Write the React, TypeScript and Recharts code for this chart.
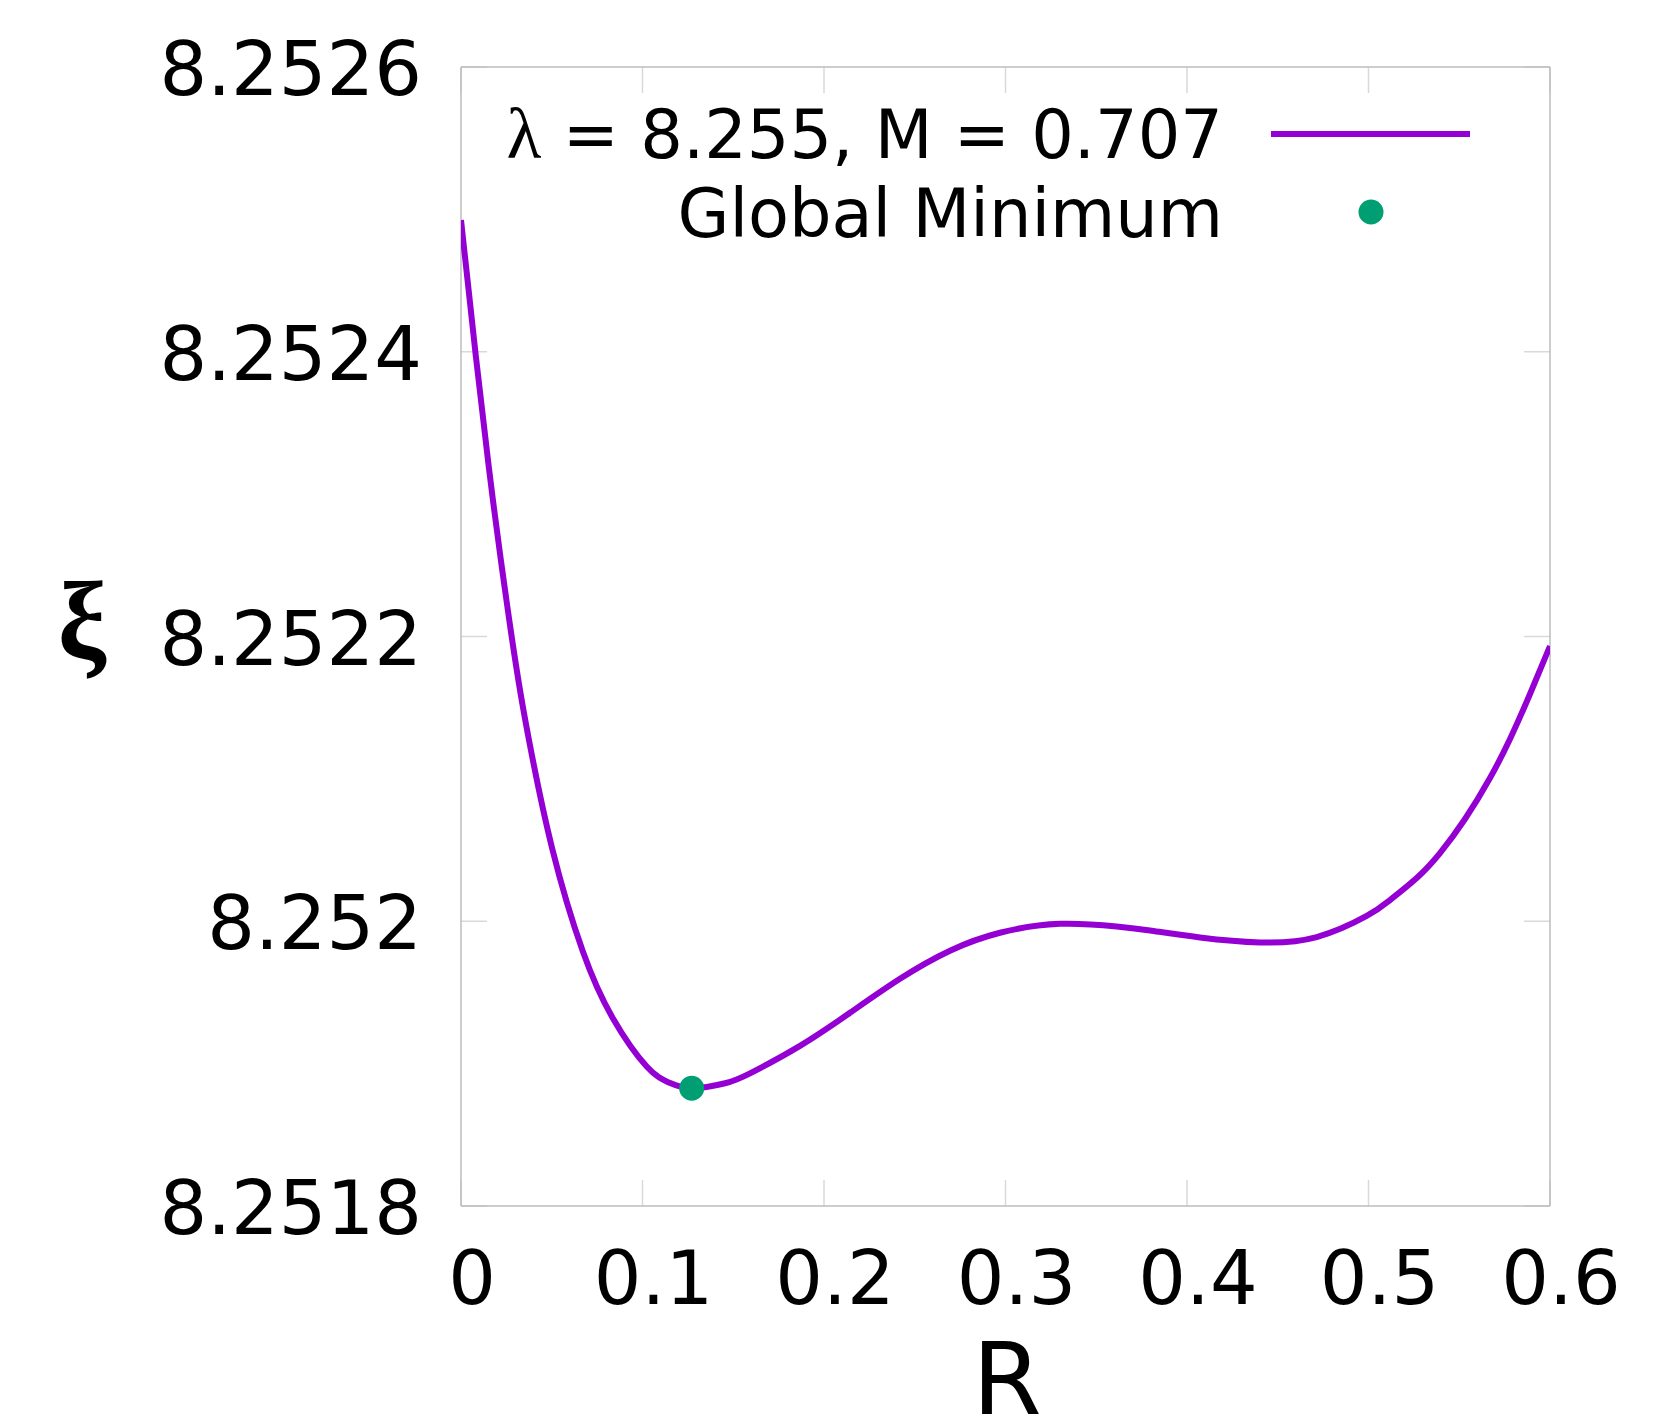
import {
  ComposedChart,
  Line,
  Scatter,
  XAxis,
  YAxis,
  ReferenceLine,
  Customized,
} from 'recharts'

// curve xi(R)
const radius = [
  0, 0.0081, 0.01763, 0.02738, 0.03306, 0.0384, 0.0503, 0.06705, 0.08358, 0.10231,
  0.1146, 0.12711, 0.14545, 0.15923, 0.18678, 0.21433, 0.24187, 0.26942, 0.29697,
  0.33003, 0.36127, 0.37961, 0.40716, 0.44022, 0.47146, 0.499, 0.51185, 0.52656,
  0.53939, 0.55317, 0.56694, 0.57796, 0.58898, 0.6,
]
const xi = [
  8.2524925, 8.2523977, 8.2522955, 8.2522046, 8.2521582, 8.252121, 8.2520508, 8.2519791,
  8.2519321, 8.251898, 8.2518867, 8.2518827, 8.2518862, 8.2518932, 8.2519125, 8.2519357,
  8.2519596, 8.2519793, 8.2519919, 8.2519982, 8.2519963, 8.2519935, 8.2519886, 8.2519851,
  8.2519889, 8.2520037, 8.2520149, 8.2520304, 8.2520479, 8.2520718, 8.2521006, 8.252128,
  8.2521596, 8.2521933,
]

// global minimum marker
const minRadius = [0.12711]
const minXi = [8.2518827]

const xTicks = [0, 0.1, 0.2, 0.3, 0.4, 0.5, 0.6]
const xTickLabels = ['0', '0.1', '0.2', '0.3', '0.4', '0.5', '0.6']
const yTicks = [8.2518, 8.252, 8.2522, 8.2524, 8.2526]
const yTickLabels = ['8.2518', '8.252', '8.2522', '8.2524', '8.2526']

const seriesLabel = 'λ = 8.255, M = 0.707'
const minLabel = 'Global Minimum'

const colors = {
  curve: '#9400d3',
  min: '#009e73',
  border: '#bdbdbd',
  tick: '#d9d9d9',
  text: '#000000',
}

const font = 'DejaVu Sans'
const greek = 'Liberation Serif'
const xDomain: [number, number] = [0, 0.6]
const yDomain: [number, number] = [8.2518, 8.2526]

// inward tick length, in data units (about 26px)
const xTickLen = 0.0143
const yTickLen = 0.0000183

const curveData = radius.map((r, i) => ({ r, xi: xi[i] }))
const minData = minRadius.map((r, i) => ({ r, xi: minXi[i] }))

function XTick(props: any) {
  const { x, y, index } = props
  return (
    <text x={x + 11} y={y + 98} textAnchor="middle" fontFamily={font} fontSize={75} fill={colors.text}>
      {xTickLabels[index]}
    </text>
  )
}

function YTick(props: any) {
  const { x, y, index } = props
  return (
    <text x={x - 39} y={y + 28} textAnchor="end" fontFamily={font} fontSize={75} fill={colors.text}>
      {yTickLabels[index]}
    </text>
  )
}

function MinDot(props: any) {
  return <circle cx={props.cx} cy={props.cy} r={12.5} fill={colors.min} />
}

function Annotations() {
  return (
    <g>
      <text x={82} y={658} textAnchor="middle" fontFamily={greek} fontWeight="bold" fontSize={110} fill={colors.text}>
        ξ
      </text>
      <text x={1007} y={1414} textAnchor="middle" fontFamily={font} fontSize={100} fill={colors.text}>
        R
      </text>
      <text x={1223} y={158} textAnchor="end" fontFamily={font} fontSize={67} fill={colors.text}>
        <tspan fontFamily={greek} fontSize={72}>{seriesLabel.slice(0, 1)}</tspan>
        {seriesLabel.slice(1)}
      </text>
      <line x1={1271} x2={1470} y1={134} y2={134} stroke={colors.curve} strokeWidth={6} />
      <text x={1223} y={237} textAnchor="end" fontFamily={font} fontSize={67} fill={colors.text}>
        {minLabel}
      </text>
      <circle cx={1371} cy={212} r={12.5} fill={colors.min} />
    </g>
  )
}

export default function App() {
  return (
    <div style={{ position: 'absolute', left: 0, top: 0, width: 1661, height: 1423, background: '#fff' }}>
      <ComposedChart
        width={1661}
        height={1423}
        margin={{ top: 67, right: 111, bottom: 67, left: 41 }}
      >
        <XAxis
          dataKey="r"
          type="number"
          domain={xDomain}
          ticks={xTicks}
          tick={<XTick />}
          tickLine={false}
          tickSize={0}
          tickMargin={0}
          axisLine={false}
          height={150}
          allowDataOverflow
        />
        <YAxis
          dataKey="xi"
          type="number"
          domain={yDomain}
          ticks={yTicks}
          tick={<YTick />}
          tickLine={false}
          tickSize={0}
          tickMargin={0}
          axisLine={false}
          width={420}
          allowDataOverflow
        />

        {xTicks.map((t) => (
          <ReferenceLine
            key={`xb${t}`}
            segment={[{ x: t, y: yDomain[0] }, { x: t, y: yDomain[0] + yTickLen }]}
            stroke={colors.tick}
            strokeWidth={1.5}
          />
        ))}
        {xTicks.map((t) => (
          <ReferenceLine
            key={`xt${t}`}
            segment={[{ x: t, y: yDomain[1] }, { x: t, y: yDomain[1] - yTickLen }]}
            stroke={colors.tick}
            strokeWidth={1.5}
          />
        ))}
        {yTicks.map((t) => (
          <ReferenceLine
            key={`yl${t}`}
            segment={[{ x: xDomain[0], y: t }, { x: xDomain[0] + xTickLen, y: t }]}
            stroke={colors.tick}
            strokeWidth={1.5}
          />
        ))}
        {yTicks.map((t) => (
          <ReferenceLine
            key={`yr${t}`}
            segment={[{ x: xDomain[1], y: t }, { x: xDomain[1] - xTickLen, y: t }]}
            stroke={colors.tick}
            strokeWidth={1.5}
          />
        ))}

        <ReferenceLine x={xDomain[0]} stroke={colors.border} strokeWidth={1.5} />
        <ReferenceLine x={xDomain[1]} stroke={colors.border} strokeWidth={1.5} />
        <ReferenceLine y={yDomain[0]} stroke={colors.border} strokeWidth={1.5} />
        <ReferenceLine y={yDomain[1]} stroke={colors.border} strokeWidth={1.5} />

        <Line
          data={curveData}
          dataKey="xi"
          type="natural"
          stroke={colors.curve}
          strokeWidth={6}
          dot={false}
          activeDot={false}
          isAnimationActive={false}
        />
        <Scatter data={minData} dataKey="xi" shape={<MinDot />} isAnimationActive={false} />

        <Customized component={<Annotations />} />
      </ComposedChart>
    </div>
  )
}
